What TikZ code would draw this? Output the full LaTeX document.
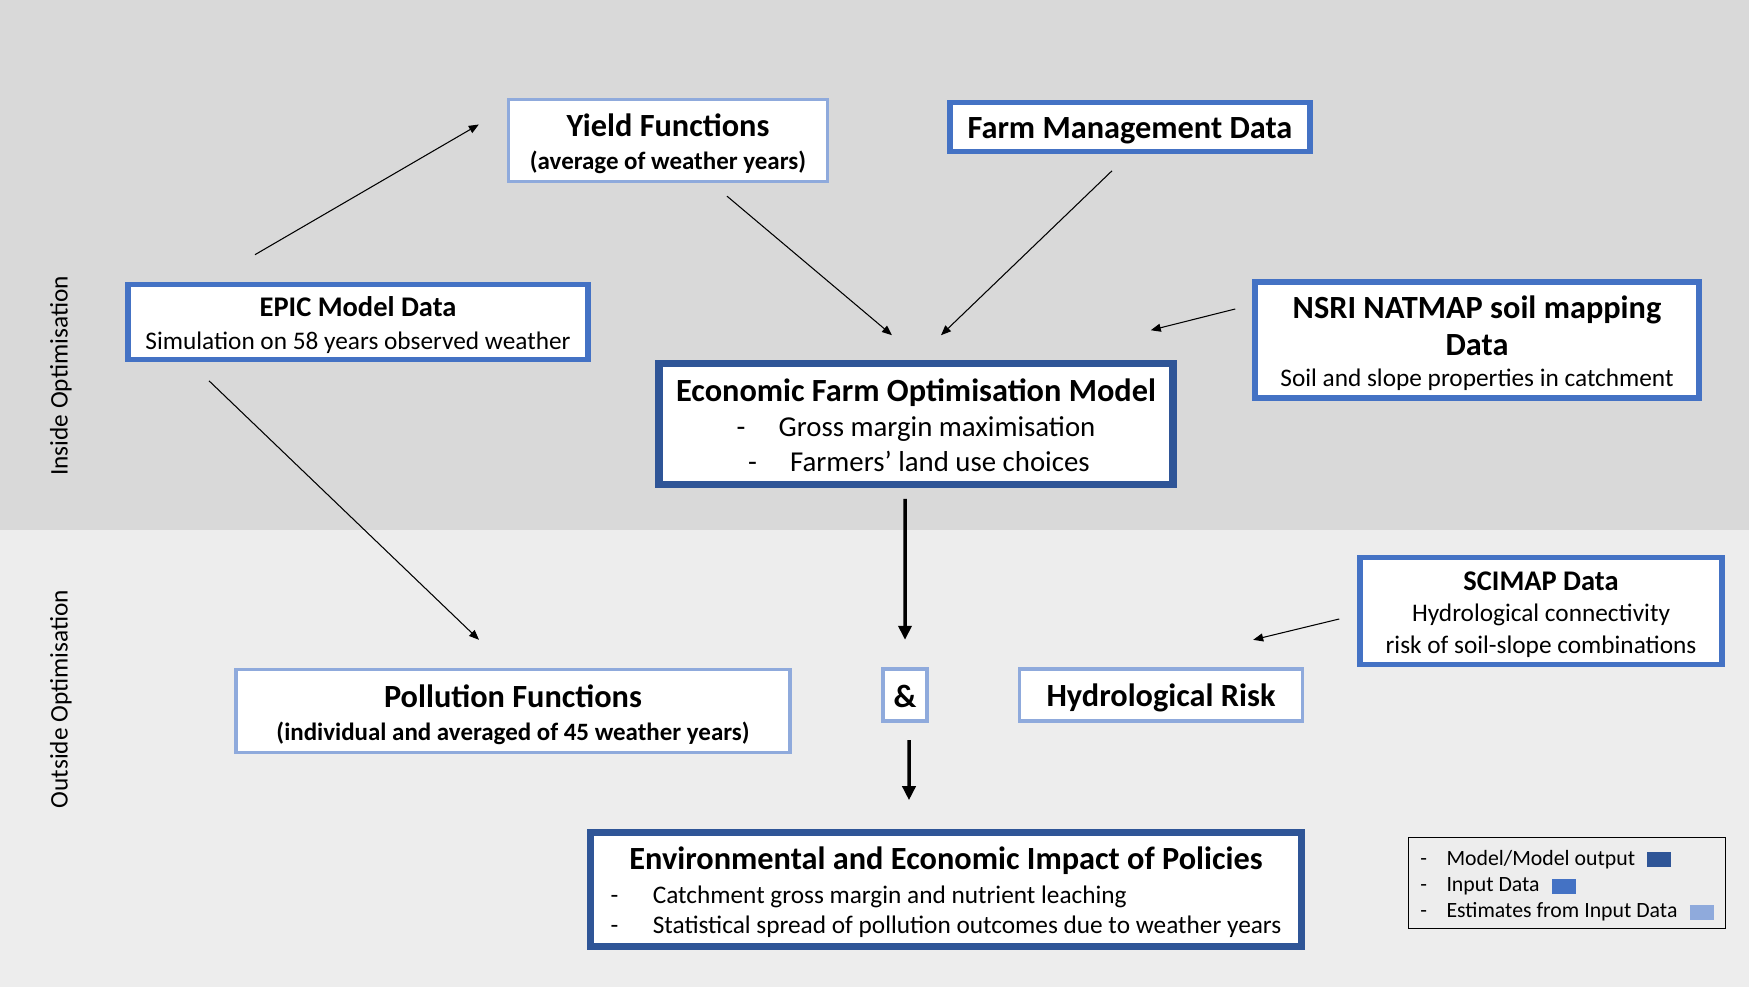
\documentclass[tikz,border=0pt]{standalone}
\usepackage{fontspec}
\setmainfont{Carlito}
\usetikzlibrary{arrows.meta, positioning}
\definecolor{efModel}{HTML}{2F5597}
\definecolor{efInput}{HTML}{4472C4}
\definecolor{efEstim}{HTML}{8FAADC}
\definecolor{efInside}{HTML}{D9D9D9}
\definecolor{efOutside}{HTML}{EDEDED}
\newcommand{\efTitle}{\bfseries\fontsize{9.2}{10.6}\selectfont}
\newcommand{\efSub}{\bfseries\fontsize{8.1}{9.5}\selectfont}
\newcommand{\efSmallBf}{\bfseries\fontsize{7.1}{8.6}\selectfont}
% extra room above the first line, to sit the text a little lower
\newcommand{\efLift}[2]{\raisebox{0pt}[\dimexpr\height+#1\relax]{#2}}
\newcommand{\swatch}[1]{\textcolor{#1}{\rule[-0.2ex]{2.4mm}{1.5mm}}}
\tikzset{
  modelbox/.style = {draw=efModel, line width=2.15pt, fill=white, align=center, inner sep=1pt},
  inputbox/.style = {draw=efInput, line width=1.6pt, fill=white, align=center, inner sep=1pt},
  estbox/.style   = {draw=efEstim, line width=0.95pt, fill=white, align=center, inner sep=1pt},
  feed/.style     = {-{Triangle[length=1mm, width=0.8mm]}, line width=0.3pt, black},
  mainfeed/.style = {-{Triangle[length=1.4mm, width=1.3mm]}, line width=1pt, black},
  sidelbl/.style  = {rotate=90, font=\fontsize{7.2}{8.6}\selectfont},
}

\begin{document}
\begin{tikzpicture}
  \useasboundingbox (0,0) rectangle (17.49,9.87);
  % the two zones
  \fill[efInside] (0,4.57) rectangle (17.49,9.87);
  \fill[efOutside] (0,0) rectangle (17.49,4.57);
  \node[sidelbl] (inlbl) at (0.61,6.11) {Inside Optimisation};
  \node[sidelbl] (outlbl) at (0.61,2.88) {Outside Optimisation};

  % inside optimisation
  \node[estbox, minimum width=3.19cm, minimum height=0.82cm, font=\efSmallBf]
    (yield) at (6.68,8.465) {\efLift{1.9pt}{\efTitle Yield Functions}\\[0.8pt] (average of weather years)};
  \node[inputbox, minimum width=3.60cm, minimum height=0.49cm, font=\efTitle]
    (farm) at (11.30,8.60) {\efLift{2.2pt}{Farm Management Data}};
  \node[inputbox, minimum width=4.60cm, minimum height=0.75cm, font=\fontsize{7.2}{9.5}\selectfont]
    (epic) at (3.58,6.65) {\efLift{1.9pt}{\efSub EPIC Model Data}\\ Simulation on 58 years observed weather};
  \node[inputbox, minimum width=4.44cm, minimum height=1.16cm, font=\fontsize{7.2}{9.5}\selectfont]
    (nsri) at (14.77,6.47) {\efLift{1.9pt}{\efTitle NSRI NATMAP soil mapping}\\[0.9pt] {\efTitle Data}\\[-0.6pt]
      Soil and slope properties in catchment};
  \node[modelbox, minimum width=5.14cm, minimum height=1.21cm, font=\fontsize{8.2}{9.9}\selectfont]
    (econ) at (9.16,5.63) {\efLift{0.6pt}{\efTitle Economic Farm Optimisation Model}\\[0.27pt]
      -\hspace{1.15em}Gross margin maximisation\\
      \hspace{0.2em}-\hspace{1.15em}Farmers’ land use choices};

  % outside optimisation
  \node[inputbox, minimum width=3.62cm, minimum height=1.07cm, font=\fontsize{7.2}{9}\selectfont]
    (scimap) at (15.41,3.76) {\efLift{2.2pt}{\efSub SCIMAP Data}\\[-0.1pt] Hydrological connectivity\\
      risk of soil-slope combinations};
  \node[estbox, minimum width=5.54cm, minimum height=0.83cm, font=\efSmallBf]
    (poll) at (5.13,2.76) {\efLift{2.2pt}{\efTitle Pollution Functions}\\[0.8pt]
      (individual and averaged of 45 weather years)};
  \node[estbox, minimum width=0.44cm, minimum height=0.52cm, font=\efTitle]
    (amp) at (9.05,2.92) {\efLift{0.6pt}{\&}};
  \node[estbox, minimum width=2.83cm, minimum height=0.52cm, font=\efTitle]
    (hydro) at (11.61,2.92) {\efLift{1.9pt}{Hydrological Risk}};
  \node[modelbox, minimum width=7.11cm, minimum height=1.14cm, font=\fontsize{7.2}{8.6}\selectfont]
    (env) at (9.46,0.975) {\efLift{3pt}{\efTitle Environmental and Economic Impact of Policies}\\[1pt]
      \begin{tabular}[t]{@{}l@{\hspace{9.8pt}}l@{}}
        - & Catchment gross margin and nutrient leaching\\
        - & Statistical spread of pollution outcomes due to weather years
      \end{tabular}};

  % legend
  \node[draw=black, line width=0.4pt, align=left, inner xsep=1.2mm, inner ysep=0.3pt,
        minimum height=0.91cm, font=\fontsize{6.2}{7.5}\selectfont] (legend) at (15.67,1.04)
    {\efLift{1.6pt}{-\hspace{0.9em}Model/Model output\hspace{3.5pt}\swatch{efModel}}\\
     -\hspace{0.9em}Input Data\hspace{3.5pt}\swatch{efInput}\\
     -\hspace{0.9em}Estimates from Input Data\hspace{3.5pt}\swatch{efEstim}};

  % connectors
  \draw[feed] ([shift={(-1.03,0.27)}]epic.north) -- ([shift={(-0.28,0.16)}]yield.west);
  \draw[feed] ([shift={(0.59,-0.13)}]yield.south) -- ([shift={(-0.24,0.245)}]econ.north);
  \draw[feed] ([shift={(-0.18,-0.165)}]farm.south) -- ([shift={(0.25,0.245)}]econ.north);
  \draw[feed] ([shift={(-0.17,0.31)}]nsri.west) -- ([shift={(-0.26,0.295)}]econ.north east);
  \draw[feed] ([shift={(-1.49,-0.185)}]epic.south) -- ([shift={(-0.34,0.28)}]poll.north);
  \draw[mainfeed] ([shift={(-0.11,-0.105)}]econ.south) -- ([shift={(0,0.275)}]amp.north);
  \draw[mainfeed] ([shift={(0.04,-0.175)}]amp.south) -- ([shift={(-0.37,0.285)}]env.north);
  \draw[feed] ([shift={(-0.18,-0.08)}]scimap.west) -- ([shift={(-0.51,0.275)}]hydro.north east);
\end{tikzpicture}
\end{document}
